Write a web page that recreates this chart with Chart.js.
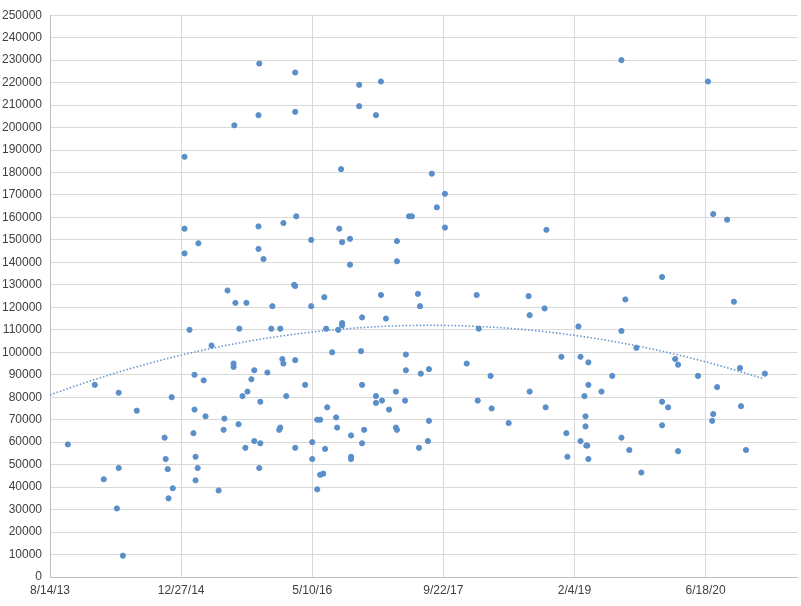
<!DOCTYPE html>
<html><head><meta charset="utf-8">
<script src="https://cdn.jsdelivr.net/npm/chart.js@4"></script>
<style>html,body{margin:0;padding:0;background:#fff}#w{width:801px;height:606px}</style>
</head><body><div id="w"><canvas id="c"></canvas></div>
<script>
// x values are spreadsheet date serials (days since 12/30/1899)
const dates = [41568,41671,41705,41755,41762,41762,41778,41831,41937,41941,41949,41952,41964,41968,
42013,42013,42013,42032,42047,42051,42051,42055,42055,42063,42066,42086,42093,42116,42143,42162,42165,42177,42200,42200,42203,42207,42219,42222,42234,42245,42249,42253,42268,42279,42279,
42295,42295,42295,42298,42298,42302,42302,42314,42329,42344,42348,42374,42378,42378,42386,42390,42390,42401,42431,42435,42435,42435,42439,42435,42435,
42473,42496,42496,42500,42500,42519,42519,42530,42530,42542,42546,42549,42553,42557,42576,42591,42595,42599,42603,42610,42614,42614,42614,42644,42648,42648,42648,42644,
42679,42679,42686,42690,42690,42690,42698,42743,42743,42743,42762,42762,42766,42781,42793,42819,42819,42823,42823,42823,42854,42857,42857,42869,42880,42903,42911,42907,42914,42941,42945,42945,42956,42975,43006,43006,
43089,43127,43135,43131,43180,43184,43249,43325,43329,43329,43386,43390,43393,43450,43469,43473,43515,43523,43523,43538,43542,43542,43545,43549,43553,43553,43553,43603,43644,43679,43679,43679,43694,43709,43736,43755,
43834,43834,43834,43857,43884,43895,43895,43971,44009,44029,44029,44025,44044,44082,44108,44131,44135,44154,44226];
const values = [59000,85500,43500,30500,48500,82000,9500,74000,62000,52500,48000,35000,80000,39500,
187000,155000,144000,110000,64000,74500,90000,53500,43000,48500,148500,87500,71500,103000,38500,65500,70500,127500,95000,93500,201000,122000,68000,110500,80500,57500,122000,82500,88000,60500,92000,
205500,156000,146000,228500,48500,78000,59500,141500,91000,110500,120500,65500,66500,110500,97000,95000,157500,80500,130000,129500,224500,207000,160500,96500,57500,
85500,150000,120500,60000,52500,39000,70000,70000,45500,46000,124500,57000,110500,75500,100000,71000,66500,110000,155000,181500,113000,112000,149000,150500,63000,53500,52500,139000,
219000,209500,100500,85500,59500,115500,65500,205500,80500,77500,220500,125500,78500,115000,74500,82500,66500,65500,140500,149500,78500,99000,92000,160500,160500,126000,120500,57500,90500,60500,69500,92500,179500,164500,170500,155500,
95000,125500,110500,78500,89500,75000,68500,125000,116500,82500,119500,75500,154500,98000,64000,53500,111500,98000,60500,80500,67000,71500,58500,58500,85500,52500,95500,82500,89500,230000,109500,62000,123500,56500,102000,46500,
133500,78000,67500,75500,97000,94500,56000,89500,220500,161500,72500,69500,84500,159000,122500,93000,76000,56500,90500];
const xMin = 41500, xMax = 44350, xStep = 500;
const xTicks = [41500,42000,42500,43000,43500,44000];
const yMin = 0, yMax = 250000, yStep = 10000;
// polynomial (order 2) trendline: vertex and curvature
const trendPeakX = 42950, trendPeakY = 112000, trendCurv = -0.01474;

const pts = dates.map((d,i)=>({x:d,y:values[i]}));
const trend = [];
for(let x=xMin;x<=dates[dates.length-1];x+=20) trend.push({x,y:trendPeakY+trendCurv*(x-trendPeakX)*(x-trendPeakX)});
function fmt(v){const d=new Date((v-25569)*86400000);return (d.getUTCMonth()+1)+'/'+d.getUTCDate()+'/'+String(d.getUTCFullYear()).slice(2);}
const font={family:'"Liberation Sans", Arial, sans-serif',size:12};
new Chart(document.getElementById('c'),{
  type:'scatter',
  data:{datasets:[
    {data:pts,backgroundColor:'#5b8fca',borderColor:'#5b8fca',pointRadius:2.6,pointHoverRadius:2.6},
    {type:'line',data:trend,borderColor:'#6a96cc',borderWidth:1.6,borderDash:[1.5,2],pointRadius:0,fill:false}
  ]},
  options:{responsive:true,maintainAspectRatio:false,animation:false,
    layout:{padding:{top:15,right:1,left:0,bottom:0}},
    plugins:{legend:{display:false},tooltip:{enabled:false}},
    scales:{
      x:{type:'linear',min:xMin,max:xMax,
        afterBuildTicks(s){s.ticks=xTicks.map(v=>({value:v}));},
        afterFit(s){s.height=29;},
        ticks:{color:'#404040',font,maxRotation:0,autoSkip:false,padding:6,callback:v=>fmt(v)},
        grid:{color:'#d9d9d9',drawTicks:false},border:{color:'#bfbfbf'}},
      y:{min:yMin,max:yMax,
        afterFit(s){s.width=50;},
        ticks:{stepSize:yStep,color:'#404040',font,padding:8,autoSkip:false,callback:v=>String(v)},
        grid:{color:'#d9d9d9',drawTicks:false},border:{color:'#bfbfbf'}}
    }}
});
</script></body></html>
